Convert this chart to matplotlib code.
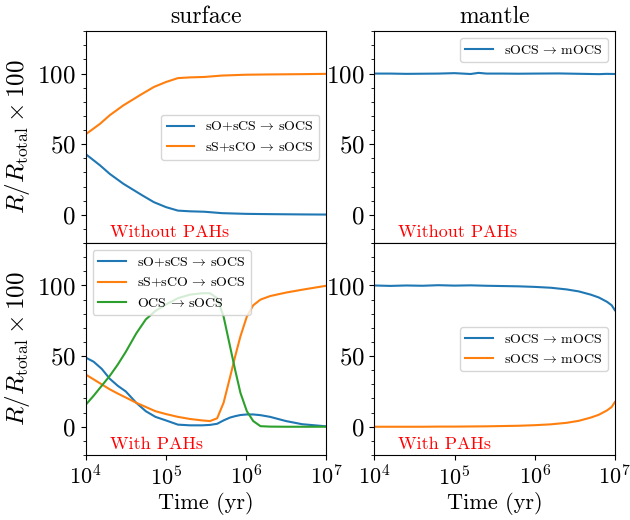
import matplotlib
matplotlib.use('agg')
import matplotlib.pyplot as plt
import numpy as np
from matplotlib.ticker import AutoMinorLocator, LogLocator, NullLocator

plt.rcParams['font.family'] = 'serif'
plt.rcParams['font.serif'] = ['cmr10']
plt.rcParams['mathtext.fontset'] = 'cm'
plt.rcParams['axes.formatter.use_mathtext'] = True

# log10(time / yr) and rate fractions (%)
logt_tl = [4.0, 4.18, 4.3, 4.47, 4.7, 4.85, 5.0, 5.15, 5.3, 5.48, 5.7, 6.0, 6.3, 6.7, 7.0]
tl_o_cs = [43, 35, 29, 22, 14, 9, 5.5, 3, 2.5, 2.2, 1.2, 0.7, 0.5, 0.3, 0.2]
tl_s_co = [57, 64.5, 70.5, 77.5, 85.5, 90.5, 94, 96.8, 97.3, 97.6, 98.6, 99.2, 99.4, 99.6, 99.8]

logt_tr = [4.0, 4.2, 4.4, 4.6, 4.8, 5.0, 5.2, 5.3, 5.4, 5.6, 5.8, 6.0, 6.3, 6.6, 6.8, 6.9, 7.0]
tr_mantle = [100, 100, 99.8, 99.9, 100, 100.3, 99.7, 100.5, 100, 100, 99.9, 100, 100.1, 99.8, 99.6, 99.8, 99.7]

logt_bl = [4.0, 4.1, 4.2, 4.3, 4.4, 4.5, 4.63, 4.75, 4.87, 5.0, 5.15, 5.3, 5.45, 5.55,
           5.64, 5.72, 5.8, 5.865, 5.93, 6.01, 6.09, 6.18, 6.3, 6.5, 6.7, 7.0]
bl_o_cs = [49, 46, 41, 34, 29, 25, 17, 11, 7, 4.5, 1.5, 1.0, 1.0, 1.3,
           2.1, 4.5, 6.5, 7.5, 8.3, 8.7, 8.7, 8.2, 7, 4, 1.8, 0.3]
bl_s_co = [37, 33.5, 30, 26.5, 23.5, 20.7, 17, 14, 11, 9, 7, 5.5, 4.5, 4.0,
           6, 17, 35, 50, 64, 78, 86, 90, 92.5, 95, 97, 99.8]
bl_ocs = [15.5, 22, 29, 36, 44, 53, 66, 76, 82, 86.5, 91, 93.5, 94.5, 94.5,
          91, 78, 57, 40, 24, 11, 4, 0.4, 0.1, 0, 0, 0]

logt_br = [4.0, 4.2, 4.4, 4.6, 4.8, 5.0, 5.2, 5.4, 5.6, 5.8, 6.0, 6.2, 6.4,
           6.55, 6.7, 6.8, 6.9, 6.96, 7.0]
br_mantle1 = [100, 99.7, 100, 99.8, 100.2, 99.9, 100.1, 99.8, 99.6, 99.4, 99, 98.4, 97.2,
              95.8, 93.5, 91.5, 88.5, 86, 82.5]
br_mantle2 = [0, 0, 0, 0, 0.1, 0.1, 0.2, 0.3, 0.5, 0.7, 1.1, 1.7, 2.8,
              4.2, 6.5, 8.5, 11.5, 14, 17.5]

arrow = r'$\,\rightarrow\,$'
lab_ocs = 'sO+sCS' + arrow + 'sOCS'
lab_sco = 'sS+sCO' + arrow + 'sOCS'
lab_gas = 'OCS' + arrow + 'sOCS'
lab_man = 'sOCS' + arrow + 'mOCS'

fig, axes = plt.subplots(2, 2, figsize=(6.3, 5.2), dpi=100, sharex=True)
fig.subplots_adjust(left=0.136, right=0.976, top=0.94, bottom=0.125, wspace=0.2, hspace=0)

ax = axes[0, 0]
ax.plot(10 ** np.array(logt_tl), tl_o_cs, color='C0', label=lab_ocs)
ax.plot(10 ** np.array(logt_tl), tl_s_co, color='C1', label=lab_sco)
ax.legend(loc='center right', fontsize=10)
ax.set_title('surface', fontsize=17)

ax = axes[0, 1]
ax.plot(10 ** np.array(logt_tr), tr_mantle, color='C0', label=lab_man)
ax.legend(loc='upper right', fontsize=10)
ax.set_title('mantle', fontsize=17)

ax = axes[1, 0]
ax.plot(10 ** np.array(logt_bl), bl_o_cs, color='C0', label=lab_ocs)
ax.plot(10 ** np.array(logt_bl), bl_s_co, color='C1', label=lab_sco)
ax.plot(10 ** np.array(logt_bl), bl_ocs, color='C2', label=lab_gas)
ax.legend(loc='upper left', fontsize=10)

ax = axes[1, 1]
ax.plot(10 ** np.array(logt_br), br_mantle1, color='C0', label=lab_man)
ax.plot(10 ** np.array(logt_br), br_mantle2, color='C1', label=lab_man)
ax.legend(loc='center right', fontsize=10)

for i in range(2):
    for j in range(2):
        ax = axes[i, j]
        ax.set_xscale('log')
        ax.set_xlim(1e4, 1e7)
        ax.xaxis.set_major_locator(LogLocator(base=10, numticks=10))
        ax.xaxis.set_minor_locator(NullLocator())
        ax.set_ylim(-20, 130)
        ax.set_yticks([0, 50, 100])
        ax.yaxis.set_minor_locator(AutoMinorLocator(5))
        ax.tick_params(axis='y', labelsize=18)
        ax.tick_params(axis='x', labelsize=16)
        ax.text(0.1, 0.03, 'Without PAHs' if i == 0 else 'With PAHs',
                transform=ax.transAxes, color='red', fontsize=13)
    axes[i, 0].set_ylabel(r'$R/R_{\rm total}\times 100$', fontsize=18)
    axes[1, i].set_xlabel('Time (yr)', fontsize=16, labelpad=2)

fig.savefig('out.png')
